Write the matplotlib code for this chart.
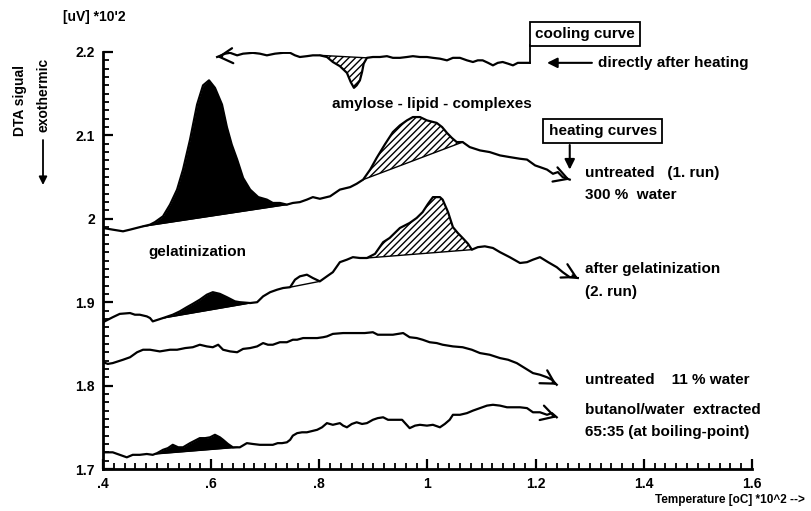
# DTA curves of starch: heating / cooling runs
import numpy as np
import matplotlib
matplotlib.use("Agg")
from matplotlib import pyplot as plt
from matplotlib.ticker import MultipleLocator

# ---------- data (temperature *10^2 oC, signal *10^2 uV) ----------
heat1_x = [0.400,0.418,0.437,0.450,0.468,0.487,0.496,0.511,0.524,0.537,0.548,0.561,0.574,0.585,0.596,
           0.607,0.620,0.629,0.638,0.648,0.659,0.672,0.687,0.703,0.714,0.727,0.740,0.751,0.764,0.777,
           0.788,0.801,0.820,0.838,0.857,0.869,0.881,0.894,0.906,0.921,0.936,0.949,0.962,0.973,0.986,
           0.999,1.017,1.027,1.036,1.045,1.054,1.065,1.078,1.097,1.115,1.134,1.152,1.171,1.184,1.199,
           1.208,1.221,1.232,1.241,1.250,1.263]
heat1_y = [1.989,1.987,1.985,1.987,1.990,1.993,1.996,2.003,2.017,2.035,2.059,2.095,2.137,2.160,2.166,
           2.157,2.137,2.110,2.089,2.071,2.049,2.035,2.026,2.023,2.019,2.019,2.017,2.019,2.020,2.023,
           2.026,2.024,2.027,2.035,2.038,2.042,2.047,2.059,2.073,2.089,2.104,2.112,2.118,2.122,2.122,
           2.118,2.115,2.110,2.103,2.097,2.092,2.092,2.086,2.082,2.080,2.076,2.074,2.072,2.071,2.064,
           2.062,2.059,2.054,2.056,2.050,2.047]

heat2_x = [0.400,0.409,0.418,0.431,0.450,0.459,0.468,0.481,0.487,0.492,0.511,0.529,0.542,0.555,0.566,
           0.579,0.592,0.603,0.616,0.629,0.644,0.653,0.672,0.685,0.696,0.709,0.722,0.733,0.746,0.755,
           0.764,0.777,0.788,0.801,0.814,0.825,0.838,0.851,0.862,0.875,0.888,0.903,0.918,0.930,0.949,
           0.967,0.980,0.991,1.001,1.010,1.023,1.028,1.038,1.047,1.056,1.065,1.075,1.082,1.093,1.106,
           1.121,1.134,1.152,1.171,1.184,1.195,1.208,1.223,1.239,1.250,1.263,1.278]
heat2_y = [1.876,1.879,1.882,1.886,1.887,1.885,1.885,1.883,1.881,1.877,1.881,1.885,1.889,1.894,1.898,
           1.903,1.909,1.912,1.910,1.906,1.901,1.900,1.899,1.900,1.907,1.912,1.915,1.917,1.918,1.927,
           1.931,1.933,1.929,1.925,1.931,1.936,1.948,1.951,1.954,1.953,1.953,1.958,1.972,1.977,1.989,
           1.995,2.001,2.008,2.018,2.026,2.026,2.023,2.008,1.990,1.983,1.977,1.970,1.963,1.966,1.967,
           1.965,1.960,1.954,1.947,1.948,1.951,1.954,1.948,1.942,1.936,1.930,1.929]

dry_x = [0.400,0.409,0.418,0.437,0.450,0.463,0.474,0.487,0.505,0.524,0.537,0.552,0.566,0.579,0.592,
         0.603,0.613,0.622,0.635,0.648,0.659,0.672,0.685,0.696,0.705,0.714,0.727,0.740,0.751,0.759,
         0.770,0.783,0.796,0.807,0.814,0.825,0.844,0.857,0.869,0.884,0.899,0.908,0.918,0.936,0.955,
         0.967,0.980,0.991,1.004,1.017,1.028,1.047,1.065,1.082,1.097,1.115,1.134,1.149,1.165,1.180,
         1.195,1.208,1.221,1.230,1.239]
dry_y = [1.828,1.826,1.827,1.831,1.834,1.840,1.843,1.843,1.841,1.843,1.843,1.845,1.846,1.849,1.847,
         1.846,1.849,1.843,1.841,1.840,1.844,1.845,1.847,1.851,1.849,1.849,1.852,1.852,1.855,1.855,
         1.857,1.857,1.857,1.858,1.859,1.862,1.863,1.863,1.863,1.863,1.864,1.861,1.861,1.861,1.863,
         1.858,1.857,1.855,1.852,1.851,1.849,1.847,1.846,1.843,1.839,1.837,1.833,1.831,1.827,1.821,
         1.815,1.813,1.810,1.807,1.801]

but_x = [0.400,0.418,0.431,0.444,0.455,0.468,0.481,0.492,0.500,0.511,0.520,0.529,0.539,0.548,0.561,
         0.570,0.579,0.589,0.598,0.607,0.616,0.622,0.631,0.640,0.653,0.666,0.677,0.690,0.703,0.714,
         0.723,0.731,0.740,0.746,0.751,0.759,0.768,0.777,0.796,0.805,0.814,0.825,0.838,0.844,0.851,
         0.860,0.869,0.879,0.888,0.899,0.908,0.918,0.927,0.936,0.953,0.960,0.967,0.977,0.986,0.999,
         1.010,1.023,1.032,1.041,1.047,1.060,1.073,1.084,1.097,1.110,1.121,1.134,1.147,1.158,1.171,
         1.184,1.195,1.208,1.221,1.230,1.239]
but_y = [1.720,1.720,1.717,1.714,1.717,1.717,1.718,1.717,1.719,1.723,1.725,1.729,1.726,1.726,1.731,
         1.734,1.737,1.737,1.738,1.741,1.738,1.735,1.730,1.726,1.726,1.731,1.730,1.729,1.729,1.729,
         1.731,1.731,1.732,1.735,1.740,1.743,1.744,1.744,1.747,1.750,1.755,1.753,1.755,1.752,1.750,
         1.754,1.756,1.754,1.755,1.759,1.761,1.762,1.759,1.759,1.759,1.754,1.749,1.752,1.753,1.752,
         1.753,1.750,1.754,1.759,1.765,1.765,1.767,1.770,1.773,1.776,1.777,1.776,1.774,1.774,1.774,
         1.773,1.768,1.768,1.765,1.767,1.762]

cool_x = [0.611,0.626,0.635,0.648,0.659,0.677,0.690,0.703,0.718,0.733,0.746,0.755,0.764,0.777,0.788,
          0.801,0.814,0.825,0.838,0.851,0.858,0.864,0.869,0.875,0.879,0.882,0.888,0.899,0.912,0.925,
          0.936,0.949,0.962,0.973,0.986,0.999,1.010,1.023,1.036,1.047,1.060,1.073,1.084,1.093,1.102,
          1.112,1.121,1.130,1.139,1.149,1.158,1.167,1.176,1.189]
cool_y = [2.194,2.198,2.199,2.196,2.198,2.199,2.198,2.196,2.198,2.199,2.199,2.196,2.194,2.195,2.196,
          2.196,2.194,2.188,2.183,2.175,2.164,2.157,2.160,2.166,2.176,2.186,2.193,2.194,2.194,2.195,
          2.193,2.193,2.194,2.195,2.194,2.194,2.193,2.192,2.190,2.193,2.193,2.190,2.188,2.190,2.190,
          2.187,2.184,2.187,2.188,2.186,2.184,2.187,2.187,2.187]

# peak integration limits (start, end)
gel1_range = [0.474, 0.740]
amy1_range = [0.881, 1.065]
gel2_range = [0.511, 0.672]
amy2_range = [0.888, 1.082]
bump2_range = [0.746, 0.801]
gel4_range = [0.496, 0.648]
cool_range = [0.801, 0.888]

xticks = [0.4, 0.6, 0.8, 1.0, 1.2, 1.4, 1.6]
xtick_labels = ['.4', '.6', '.8', '1', '1.2', '1.4', '1.6']
yticks = [1.7, 1.8, 1.9, 2.0, 2.1, 2.2]
ytick_labels = ['1.7', '1.8', '1.9', '2', '2.1', '2.2']

# ---------- style ----------
plt.rcParams['font.family'] = ['Liberation Sans', 'DejaVu Sans']
plt.rcParams['font.weight'] = 'bold'
plt.rcParams['hatch.linewidth'] = 1.0
for a in ('xtick', 'ytick'):
    plt.rcParams[a + '.direction'] = 'in'
    plt.rcParams[a + '.major.size'] = 7
    plt.rcParams[a + '.major.width'] = 1.6
    plt.rcParams[a + '.minor.size'] = 4
    plt.rcParams[a + '.minor.width'] = 1.3
    plt.rcParams[a + '.labelsize'] = 10
    plt.rcParams[a + '.major.pad'] = 6

fig = plt.figure(figsize=(8.11, 5.11), dpi=100)
rect = [103/811, 42/511, 649/811, 417/511]

# frame axes: spines, ticks and tick labels only
frame = fig.add_axes(rect, facecolor='none', zorder=3)
frame.set_xlim(0.4, 1.6)
frame.set_ylim(1.7, 2.2)
frame.spines['top'].set_visible(False)
frame.spines['right'].set_visible(False)
frame.spines['left'].set_linewidth(2)
frame.spines['bottom'].set_linewidth(2)
frame.set_xticks(xticks)
frame.set_xticklabels(xtick_labels)
frame.set_yticks(yticks)
frame.set_yticklabels(ytick_labels)
frame.xaxis.set_minor_locator(MultipleLocator(0.02))
frame.yaxis.set_minor_locator(MultipleLocator(0.01))
frame.tick_params(top=False, right=False, which='both')

# data axes
ax = fig.add_axes(rect, zorder=2)
ax.set_xlim(0.4, 1.6)
ax.set_ylim(1.7, 2.2)
ax.axis('off')

LW = 1.6
HEAD = dict(arrowstyle='->,head_length=0.8,head_width=0.45', lw=LW, color='black',
            shrinkA=0, shrinkB=0, mutation_scale=12)


def peak(x, y, rng, hatch=None):
    x = np.asarray(x); y = np.asarray(y)
    x0, x1 = rng
    b0, b1 = np.interp(x0, x, y), np.interp(x1, x, y)
    m = (x > x0) & (x < x1)
    px = np.r_[x0, x[m], x1]
    py = np.r_[b0, y[m], b1]
    base = np.interp(px, [x0, x1], [b0, b1])
    if hatch is None:
        ax.fill_between(px, py, base, color='black', lw=0)
    elif hatch != 'none':
        ax.fill_between(px, py, base, facecolor='white', edgecolor='black',
                        hatch=hatch, lw=0)
    ax.plot([x0, x1], [b0, b1], color='black', lw=1.0)


def curve(x, y, arrow_at_end=True):
    ax.plot(x, y, color='black', lw=LW, zorder=3)
    x = np.asarray(x); y = np.asarray(y)
    if arrow_at_end:
        tip, ref = np.array([x[-1], y[-1]]), np.array([x[-4], y[-4]])
    else:
        tip, ref = np.array([x[0], y[0]]), np.array([x[3], y[3]])
    tail = tip + 0.25 * (ref - tip)   # short shaft, direction smoothed over a few points
    ax.annotate('', xy=tuple(tip), xytext=tuple(tail), arrowprops=HEAD)


peak(heat1_x, heat1_y, gel1_range)
peak(heat1_x, heat1_y, amy1_range, hatch='/////')
curve(heat1_x, heat1_y)

peak(heat2_x, heat2_y, gel2_range)
peak(heat2_x, heat2_y, amy2_range, hatch='/////')
peak(heat2_x, heat2_y, bump2_range, hatch='none')
curve(heat2_x, heat2_y)

curve(dry_x, dry_y)

peak(but_x, but_y, gel4_range)
curve(but_x, but_y)

peak(cool_x, cool_y, cool_range, hatch='/////')
curve(cool_x, cool_y, arrow_at_end=False)

# ---------- annotations ----------
tkw = dict(fontsize=11, fontweight='bold', color='black')
ax.text(1.008, 2.1376, 'amylose - lipid - complexes', ha='center', va='center', **tkw)
ax.text(0.483, 1.960, 'gelatinization', ha='left', va='center', **tkw)
ax.text(1.291, 2.055, 'untreated   (1. run)', ha='left', va='center', **tkw)
ax.text(1.291, 2.0285, '300 %  water', ha='left', va='center', **tkw)
ax.text(1.291, 1.940, 'after gelatinization', ha='left', va='center', **tkw)
ax.text(1.291, 1.912, '(2. run)', ha='left', va='center', **tkw)
ax.text(1.291, 1.8067, 'untreated    11 % water', ha='left', va='center', **tkw)
ax.text(1.291, 1.771, 'butanol/water  extracted', ha='left', va='center', **tkw)
ax.text(1.291, 1.7444, '65:35 (at boiling-point)', ha='left', va='center', **tkw)

box = dict(boxstyle='square,pad=0.35', facecolor='white', edgecolor='black', lw=1.3)
ax.text(1.291, 2.2216, 'cooling curve', ha='center', va='center', bbox=box,
        clip_on=False, **tkw)
ax.plot([1.189, 1.189], [2.187, 2.2084], color='black', lw=1.3, clip_on=False)
ax.annotate('', xy=(1.221, 2.187), xytext=(1.304, 2.187),
            arrowprops=dict(arrowstyle='-|>,head_length=0.5,head_width=0.25',
                            lw=1.5, color='black', shrinkA=0, shrinkB=0, mutation_scale=12))
ax.text(1.315, 2.187, 'directly after heating', ha='left', va='center', **tkw)

ax.text(1.324, 2.1053, 'heating curves', ha='center', va='center', bbox=box, **tkw)
ax.annotate('', xy=(1.263, 2.059), xytext=(1.263, 2.0885),
            arrowprops=dict(arrowstyle='-|>,head_length=0.5,head_width=0.25',
                            lw=1.5, color='black', shrinkA=0, shrinkB=0, mutation_scale=12))

fig.text(63/811, 1 - 17/511, "[uV] *10'2", ha='left', va='center', fontsize=10, fontweight='bold')
fig.text(20/811, 1 - 100/511, 'DTA sigual', rotation=90, ha='center', va='center',
         fontsize=10, fontweight='bold')
fig.text(43/811, 1 - 95/511, 'exothermic', rotation=90, ha='center', va='center',
         fontsize=10, fontweight='bold')
ax.annotate('', xy=(43/811, 1 - 185/511), xycoords='figure fraction',
            xytext=(43/811, 1 - 140/511), textcoords='figure fraction',
            arrowprops=dict(arrowstyle='-|>,head_length=0.4,head_width=0.2',
                            lw=1.3, color='black', shrinkA=0, shrinkB=0, mutation_scale=12))
fig.text(805/811, 1 - 500/511, 'Temperature [oC] *10^2 -->', ha='right', va='center',
         fontsize=8.5, fontweight='bold')

fig.savefig('out.png', dpi=100)
